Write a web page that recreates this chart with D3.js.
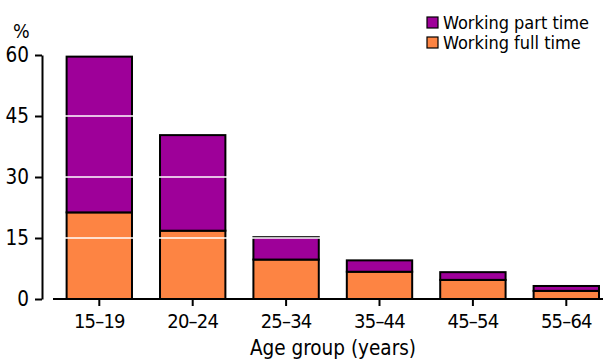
<!DOCTYPE html>
<html>
<head>
<meta charset="utf-8">
<script src="https://cdn.jsdelivr.net/npm/d3@7"></script>
<style>
  html, body { margin: 0; padding: 0; background: #fff; }
  svg { display: block; }
  text { font-family: "DejaVu Sans", Verdana, sans-serif; font-stretch: condensed; fill: #000; }
</style>
</head>
<body>
<svg id="chart" width="605" height="360"></svg>
<script>
// Employment of young people by age group, per cent
const ageGroups = ["15–19", "20–24", "25–34", "35–44", "45–54", "55–64"];
const fullTime = [21.3, 16.8, 9.7, 6.7, 4.7, 2.0];
const partTime = [38.3, 23.5, 5.5, 2.8, 1.9, 1.2];
const yTicks = [0, 15, 30, 45, 60];
const seriesNames = ["Working full time", "Working part time"];
const seriesColors = ["#fd8443", "#9e0099"];

const svg = d3.select("#chart");

const x = d3.scaleBand()
  .domain(ageGroups)
  .range([52.6, 613])
  .paddingInner(0.3)
  .paddingOuter(0.15);

const y = d3.scaleLinear().domain([0, 60]).range([299, 55]);

const rows = ageGroups.map((g, i) => ({ group: g, full: fullTime[i], part: partTime[i] }));
const stack = d3.stack().keys(["full", "part"]);
const layers = stack(rows);

// Stacked bars
svg.append("g").selectAll("g")
  .data(layers)
  .join("g")
  .attr("fill", (d, i) => seriesColors[i])
  .selectAll("rect")
  .data(d => d)
  .join("rect")
  .attr("x", d => x(d.data.group))
  .attr("y", d => y(d[1]))
  .attr("width", x.bandwidth())
  .attr("height", d => y(d[0]) - y(d[1]))
  .attr("stroke", "#000")
  .attr("stroke-width", 2);

// White reference lines across the plot
svg.append("g").selectAll("line")
  .data(yTicks.filter(t => t > 0 && t < 60))
  .join("line")
  .attr("x1", 54).attr("x2", 603)
  .attr("y1", d => y(d)).attr("y2", d => y(d))
  .attr("stroke", "#fff")
  .attr("stroke-width", 1.5);

// Y axis
const yAxis = svg.append("g").attr("transform", "translate(42,0)")
  .call(d3.axisLeft(y).tickValues(yTicks).tickSize(7).tickPadding(6).tickSizeOuter(0));
yAxis.select(".domain").attr("stroke-width", 2);
yAxis.selectAll(".tick line").attr("stroke-width", 2);
yAxis.selectAll(".tick text").attr("font-size", 20.5)
  .style("font-family", '"DejaVu Sans", Verdana, sans-serif');

// X axis
const xAxis = svg.append("g").attr("transform", "translate(0,299)")
  .call(d3.axisBottom(x).tickSize(7).tickPadding(8).tickSizeOuter(0));
xAxis.select(".domain").remove();
xAxis.append("line")
  .attr("x1", 53).attr("x2", 603).attr("y1", 0).attr("y2", 0)
  .attr("stroke", "#000").attr("stroke-width", 2);
xAxis.selectAll(".tick line").attr("stroke-width", 2);
xAxis.selectAll(".tick text").attr("font-size", 20)
  .attr("letter-spacing", "-0.8px")
  .style("font-family", '"DejaVu Sans", Verdana, sans-serif');

// Unit label
svg.append("text").attr("x", 13).attr("y", 38).attr("font-size", 19.5).text("%");

// Axis title
svg.append("text").attr("x", 333).attr("y", 354.5)
  .attr("text-anchor", "middle").attr("font-size", 20.5)
  .text("Age group (years)");

// Legend (part time listed first)
const legendItems = [1, 0];
const legend = svg.append("g").selectAll("g")
  .data(legendItems)
  .join("g")
  .attr("transform", (d, i) => `translate(427,${17 + i * 20})`);
legend.append("rect")
  .attr("width", 11).attr("height", 11)
  .attr("fill", d => seriesColors[d])
  .attr("stroke", "#000").attr("stroke-width", 1.2);
legend.append("text")
  .attr("x", 16).attr("y", 11.5)
  .attr("font-size", 18)
  .text(d => seriesNames[d]);
</script>
</body>
</html>
